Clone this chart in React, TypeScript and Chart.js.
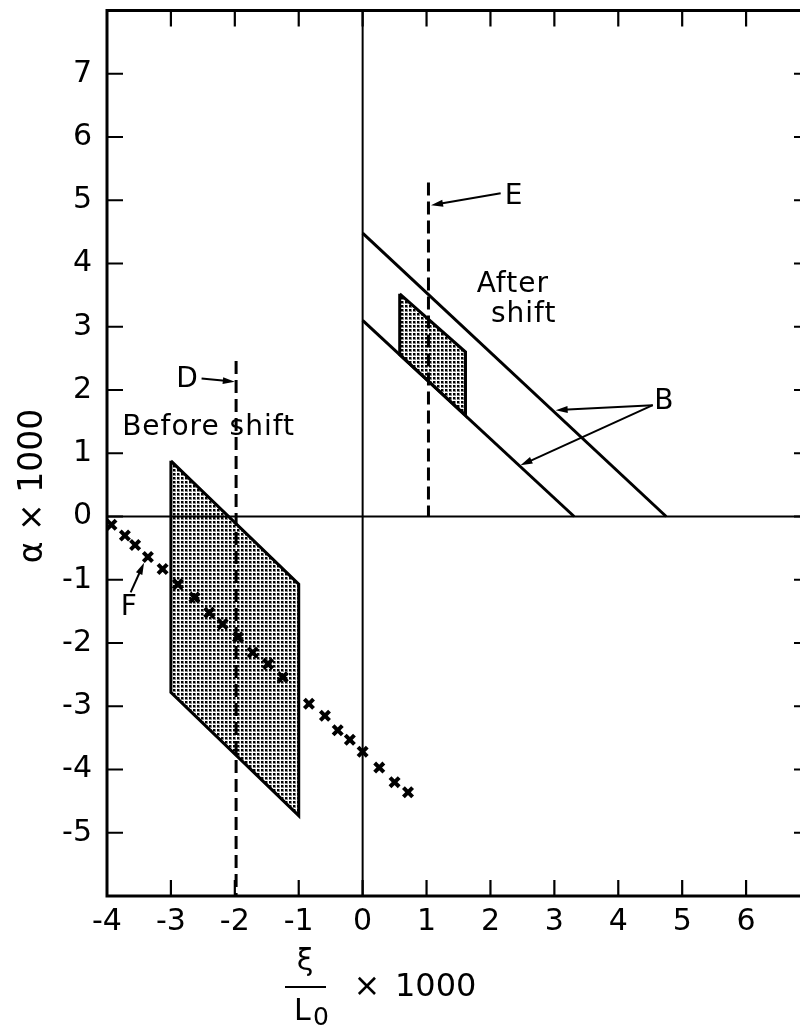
import React, { useEffect, useRef } from 'react';
import { Chart, registerables } from 'chart.js';

Chart.register(...registerables);

// Axis ranges and tick values
const xMin = -4;
const xMax = 7;
const yMin = -6;
const yMax = 8;
const xTickValues = [-4, -3, -2, -1, 0, 1, 2, 3, 4, 5, 6];
const yTickValues = [-5, -4, -3, -2, -1, 0, 1, 2, 3, 4, 5, 6, 7];

// Series F (x markers)
const fX = [-3.93, -3.72, -3.56, -3.36, -3.13, -2.89, -2.63, -2.4, -2.19, -1.95, -1.72, -1.48, -1.25, -0.84, -0.59, -0.39, -0.2, 0.0, 0.26, 0.5, 0.71];
const fY = [-0.13, -0.3, -0.45, -0.64, -0.83, -1.07, -1.28, -1.52, -1.7, -1.91, -2.15, -2.33, -2.54, -2.96, -3.15, -3.38, -3.53, -3.72, -3.97, -4.2, -4.36];

// Shaded region before shift
const beforeX = [-3, -1, -1, -3, -3];
const beforeY = [0.88, -1.07, -4.73, -2.78, 0.88];

// Shaded region after shift
const afterX = [0.58, 1.61, 1.61, 0.58, 0.58];
const afterY = [3.52, 2.6, 1.6, 2.56, 3.52];

// Lines B
const bUpperX = [0, 4.75];
const bUpperY = [4.48, 0];
const bLowerX = [0, 3.31];
const bLowerY = [3.1, 0];

// Dashed lines D and E
const dX = [-1.98, -1.98];
const dY = [2.46, -6];
const eX = [1.03, 1.03];
const eY = [5.28, 0];

// Zero reference lines
const zeroHX = [-4, 7];
const zeroHY = [0, 0];
const zeroVX = [0, 0];
const zeroVY = [-6, 8];

const pts = (xs: number[], ys: number[]) => xs.map((x, i) => ({ x, y: ys[i] }));

const fmt = (v: number) => (v < 0 ? '-' + Math.abs(v) : String(v));

const FONT = '"DejaVu Sans", sans-serif';

function dotPattern(): CanvasPattern | string {
  const c = document.createElement('canvas');
  c.width = 4;
  c.height = 4;
  const g = c.getContext('2d');
  if (!g) return '#999';
  g.fillStyle = '#888';
  g.fillRect(1, 1, 3, 3);
  g.fillStyle = '#000';
  g.fillRect(1, 1, 2, 2);
  return g.createPattern(c, 'repeat') || '#999';
}

function arrow(ctx: CanvasRenderingContext2D, x1: number, y1: number, x2: number, y2: number) {
  const ang = Math.atan2(y2 - y1, x2 - x1);
  const len = 12;
  const hw = 3.5;
  ctx.beginPath();
  ctx.moveTo(x1, y1);
  ctx.lineTo(x2 - Math.cos(ang) * len * 0.6, y2 - Math.sin(ang) * len * 0.6);
  ctx.stroke();
  ctx.beginPath();
  ctx.moveTo(x2, y2);
  ctx.lineTo(x2 - Math.cos(ang) * len - Math.sin(ang) * hw, y2 - Math.sin(ang) * len + Math.cos(ang) * hw);
  ctx.lineTo(x2 - Math.cos(ang) * len + Math.sin(ang) * hw, y2 - Math.sin(ang) * len - Math.cos(ang) * hw);
  ctx.closePath();
  ctx.fill();
}

const decoPlugin = {
  id: 'deco',
  afterDraw(chart: any) {
    const { ctx, chartArea: a, scales } = chart;
    const xs = scales.x;
    const ys = scales.y;
    const px = (v: number) => xs.getPixelForValue(v);
    const py = (v: number) => ys.getPixelForValue(v);
    ctx.save();
    ctx.strokeStyle = '#000';
    ctx.fillStyle = '#000';
    ctx.lineCap = 'butt';

    // frame
    ctx.lineWidth = 3;
    ctx.strokeRect(a.left, a.top, a.right - a.left, a.bottom - a.top);

    // inward ticks
    ctx.lineWidth = 2.2;
    const tl = 16;
    ctx.beginPath();
    xTickValues.forEach((v) => {
      if (v === xMin) return;
      const X = px(v);
      ctx.moveTo(X, a.bottom);
      ctx.lineTo(X, a.bottom - tl);
      ctx.moveTo(X, a.top);
      ctx.lineTo(X, a.top + tl);
    });
    yTickValues.forEach((v) => {
      const Y = py(v);
      ctx.moveTo(a.left, Y);
      ctx.lineTo(a.left + tl, Y);
      ctx.moveTo(a.right, Y);
      ctx.lineTo(a.right - tl, Y);
    });
    ctx.stroke();

    // annotation arrows
    ctx.lineWidth = 2;
    arrow(ctx, px(-2.52), py(2.18), px(-2.0), py(2.13)); // D
    arrow(ctx, px(2.16), py(5.11), px(1.07), py(4.92)); // E
    arrow(ctx, px(4.54), py(1.76), px(3.02), py(1.68)); // B upper
    arrow(ctx, px(4.54), py(1.76), px(2.47), py(0.81)); // B lower
    arrow(ctx, px(-3.63), py(-1.2), px(-3.42), py(-0.73)); // F

    // annotation texts
    ctx.textAlign = 'center';
    ctx.textBaseline = 'middle';
    (ctx as any).letterSpacing = '1px';
    ctx.font = `28px ${FONT}`;
    ctx.fillText('D', px(-2.74), py(2.16));
    ctx.fillText('E', px(2.37), py(5.05));
    ctx.fillText('B', px(4.72), py(1.81));
    ctx.fillText('F', px(-3.65), py(-1.44));
    ctx.fillText('Before shift', px(-2.41), py(1.4));
    ctx.fillText('After', px(2.35), py(3.66));
    ctx.fillText('shift', px(2.52), py(3.19));
    (ctx as any).letterSpacing = '0px';

    // y-axis title
    ctx.save();
    ctx.translate(33, 486);
    ctx.rotate(-Math.PI / 2);
    ctx.font = `33px ${FONT}`;
    ctx.textAlign = 'center';
    ctx.textBaseline = 'middle';
    ctx.fillText('α × 1000', 0, 0);
    ctx.restore();

    // x-axis title: ξ / L0 × 1000
    ctx.font = `30px ${FONT}`;
    ctx.textAlign = 'center';
    ctx.textBaseline = 'middle';
    ctx.fillText('ξ', 305, 962);
    ctx.lineWidth = 2;
    ctx.beginPath();
    ctx.moveTo(285, 987);
    ctx.lineTo(326, 987);
    ctx.stroke();
    ctx.textAlign = 'left';
    ctx.textBaseline = 'alphabetic';
    ctx.font = `30px ${FONT}`;
    ctx.fillText('L', 294, 1020);
    ctx.font = `25px ${FONT}`;
    ctx.fillText('0', 313, 1025);
    ctx.font = `32px ${FONT}`;
    ctx.textBaseline = 'middle';
    ctx.textAlign = 'center';
    ctx.fillText('×', 367, 988);
    ctx.textAlign = 'left';
    ctx.fillText('1000', 395, 988);

    ctx.restore();
  },
};

export default function App() {
  const ref = useRef<HTMLCanvasElement | null>(null);

  useEffect(() => {
    if (!ref.current) return;
    const pattern = dotPattern();
    const lineDs = (xs: number[], ys: number[], extra: any = {}) => ({
      data: pts(xs, ys),
      showLine: true,
      borderColor: '#000',
      borderWidth: 3,
      pointRadius: 0,
      fill: false,
      tension: 0,
      ...extra,
    });
    const chart = new Chart(ref.current, {
      type: 'scatter',
      data: {
        datasets: [
          lineDs(zeroHX, zeroHY, { borderWidth: 2, order: 3 }),
          lineDs(zeroVX, zeroVY, { borderWidth: 2, order: 3 }),
          lineDs(beforeX, beforeY, { fill: 'shape', backgroundColor: pattern, borderWidth: 3, order: 5 }),
          lineDs(afterX, afterY, { fill: 'shape', backgroundColor: pattern, borderWidth: 3, order: 5 }),
          lineDs(bUpperX, bUpperY, { order: 2 }),
          lineDs(bLowerX, bLowerY, { order: 2 }),
          lineDs(dX, dY, { borderDash: [13, 6], borderWidth: 3, order: 1 }),
          lineDs(eX, eY, { borderDash: [13, 6], borderWidth: 3, order: 1 }),
          {
            data: pts(fX, fY),
            showLine: false,
            pointStyle: 'crossRot',
            pointRadius: 6.5,
            borderWidth: 4,
            borderColor: '#000',
            backgroundColor: '#000',
            order: 0,
          },
        ],
      },
      options: {
        animation: false,
        responsive: false,
        devicePixelRatio: 1,
        layout: { padding: { top: 10, right: 20, left: 0, bottom: 0 } },
        plugins: { legend: { display: false }, tooltip: { enabled: false } },
        scales: {
          x: {
            type: 'linear',
            min: xMin,
            max: xMax,
            border: { display: false },
            grid: { display: false, drawTicks: false, tickLength: 0 },
            ticks: {
              stepSize: 1,
              autoSkip: false,
              maxRotation: 0,
              minRotation: 0,
              padding: 8,
              color: '#000',
              font: { family: FONT, size: 30 },
              callback: (v: any) => (xTickValues.includes(Number(v)) ? fmt(Number(v)) : ''),
            },
            afterFit: (s: any) => {
              s.height = 132;
              s.paddingLeft = 0;
              s.paddingRight = 0;
            },
          },
          y: {
            type: 'linear',
            min: yMin,
            max: yMax,
            border: { display: false },
            grid: { display: false, drawTicks: false, tickLength: 0 },
            ticks: {
              stepSize: 1,
              autoSkip: false,
              padding: 15,
              color: '#000',
              font: { family: FONT, size: 30 },
              callback: (v: any) => (yTickValues.includes(Number(v)) ? fmt(Number(v)) : ''),
            },
            afterFit: (s: any) => {
              s.width = 107;
              s.paddingTop = 0;
              s.paddingBottom = 0;
            },
          },
        },
      },
      plugins: [decoPlugin],
    } as any);
    return () => chart.destroy();
  }, []);

  return (
    <div
      style={{
        position: 'absolute',
        left: 0,
        top: 0,
        width: 800,
        height: 1028,
        overflow: 'hidden',
        background: '#fff',
      }}
    >
      <canvas ref={ref} width={830} height={1028} style={{ display: 'block' }} />
    </div>
  );
}
